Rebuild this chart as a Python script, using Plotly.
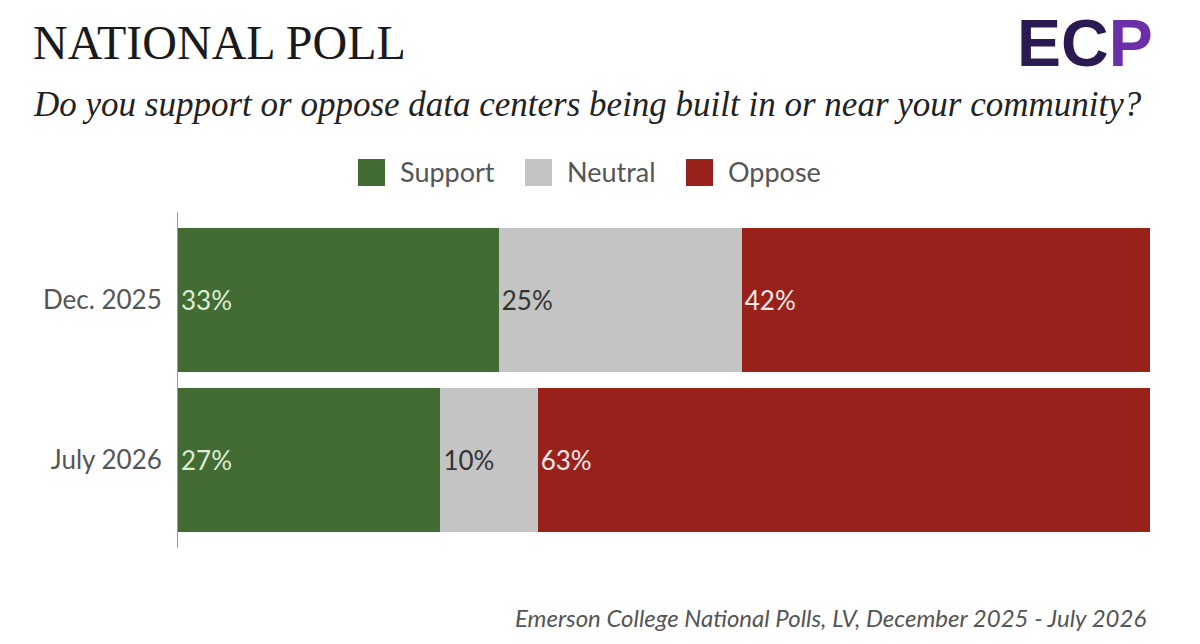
import plotly.graph_objects as go

periods = ["Dec. 2025", "July 2026"]
support = [33, 27]
neutral = [25, 10]
oppose = [42, 63]

series = [
    ("Support", support, "#436b34", "#dcefd2"),
    ("Neutral", neutral, "#c4c4c4", "#333333"),
    ("Oppose", oppose, "#98221a", "#f5e6e4"),
]

L, R, T, B = 178, 50, 212, 96
W, H = 1200, 644
PW, PH = W - L - R, H - T - B


def px(x):
    return (x - L) / PW


def py(y):
    return 1 - (y - T) / PH


fig = go.Figure()
for name, vals, color, tcolor in series:
    fig.add_trace(go.Bar(
        name=name, y=periods, x=vals, orientation="h",
        marker=dict(color=color, line=dict(width=0)),
        text=[f"{v}%" for v in vals], textposition="inside",
        insidetextanchor="start", textangle=0,
        textfont=dict(family="Lato", size=26, color=tcolor),
        width=0.9, showlegend=False,
    ))

# manual legend (large square swatches)
legend_pos = [358, 525, 686]
shapes = []
annotations = []
for (name, vals, color, tcolor), x0 in zip(series, legend_pos):
    shapes.append(dict(type="rect", xref="paper", yref="paper",
                       x0=px(x0), x1=px(x0 + 27), y0=py(186), y1=py(159),
                       fillcolor=color, line=dict(width=0)))
    annotations.append(dict(text=name, xref="paper", yref="paper", x=px(x0 + 40), y=py(171),
                            xanchor="left", yanchor="middle", showarrow=False,
                            font=dict(family="Lato", size=27, color="#555555")))

annotations += [
    dict(text="NATIONAL POLL", xref="paper", yref="paper", x=px(31), y=py(42),
         xanchor="left", yanchor="middle", showarrow=False,
         font=dict(family="Liberation Serif", size=48, color="#1a1a1a")),
    dict(text="<i>Do you support or oppose data centers being built in or near your community?</i>",
         xref="paper", yref="paper", x=px(31), y=py(104), xanchor="left", yanchor="middle",
         showarrow=False, font=dict(family="Liberation Serif", size=35, color="#222222")),
    dict(text="<b>EC<span style='color:#6b2fa8'>P</span></b>", xref="paper", yref="paper",
         x=px(1155), y=py(43), xanchor="right", yanchor="middle", showarrow=False,
         font=dict(family="Liberation Sans", size=66, color="#2b1a52")),
    dict(text="<i>Emerson College National Polls, LV, December 2025 - July 2026</i>",
         xref="paper", yref="paper", x=px(1148), y=py(617), xanchor="right", yanchor="middle",
         showarrow=False, font=dict(family="Lato", size=24, color="#555555")),
]

fig.update_layout(
    barmode="stack",
    width=W, height=H,
    margin=dict(l=L, r=R, t=T, b=B),
    paper_bgcolor="white", plot_bgcolor="white",
    uniformtext=dict(minsize=8, mode="show"),
    showlegend=False,
    xaxis=dict(range=[0, 100], visible=False, fixedrange=True),
    yaxis=dict(range=[1.55, -0.55], showline=True, linecolor="#9a9a9a", linewidth=1,
               ticks="", showgrid=False, zeroline=False,
               tickfont=dict(family="Lato", size=26, color="#555555"),
               ticklabelstandoff=10),
    shapes=shapes,
    annotations=annotations,
)

fig.write_html("out.html")
